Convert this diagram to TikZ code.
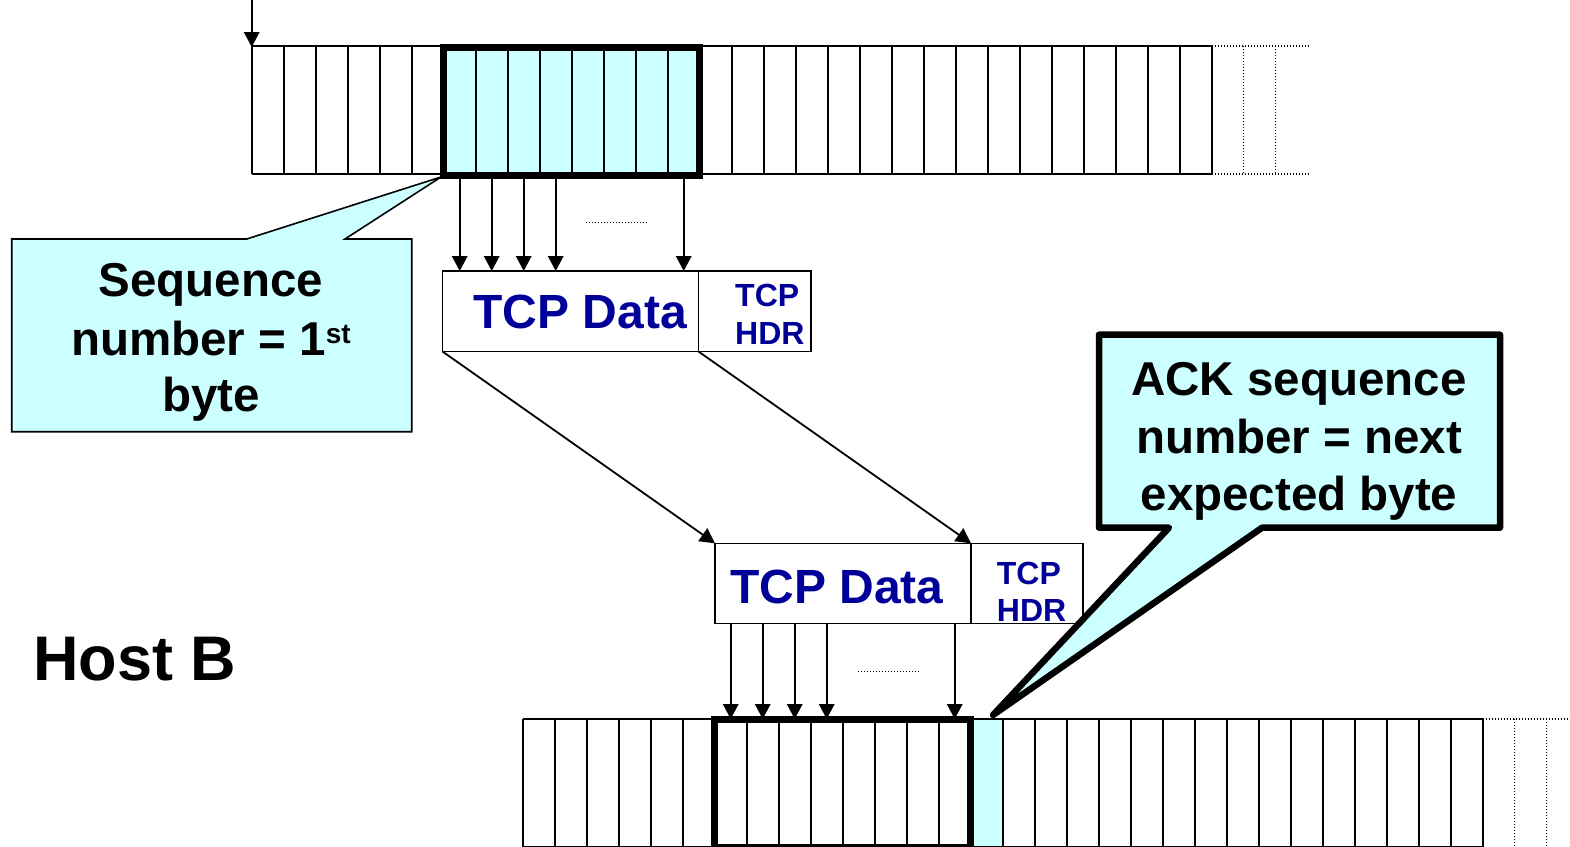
\documentclass[tikz,border=0pt]{standalone}
\usepackage{fontspec}
\setmainfont{Liberation Sans}
\usetikzlibrary{arrows.meta}
\definecolor{lightcyan}{RGB}{204,255,255}
\definecolor{hdrblue}{RGB}{0,0,153}

\begin{document}
\begin{tikzpicture}[x=1pt,y=-1pt,
  cell/.style={line width=2pt},
  dotcell/.style={line width=1.5pt,dash pattern=on 1pt off 2pt},
  ellip/.style={line width=1pt,dash pattern=on 0.8pt off 2.2pt},
  winbox/.style={draw,line width=7pt,rectangle,inner sep=0pt,outer sep=0pt},
  segbox/.style={draw,line width=1.6pt,rectangle,inner sep=0pt,outer sep=0pt,fill=white},
  arr/.style={line width=1.8pt,-{Triangle[length=15pt,width=15.5pt]}},
  datalbl/.style={font=\fontsize{48}{48}\selectfont\bfseries,text=hdrblue,inner sep=0pt,anchor=base west},
  hdrlbl/.style={font=\fontsize{32}{32}\selectfont\bfseries,text=hdrblue,inner sep=0pt,anchor=base west},
  calltxt/.style={font=\fontsize{47.5}{47.5}\selectfont\bfseries,inner sep=0pt,anchor=base},
  callthin/.style={fill=lightcyan,draw,line width=1.6pt,line join=miter},
  callthick/.style={fill=lightcyan,draw,line width=6.5pt,line join=round}
]
\path[use as bounding box,clip] (0,0) rectangle (1570,846);
\fill[white] (0,0) rectangle (1570,846);

% ---------- sender byte stream ----------
\fill[lightcyan] (443.7,46) rectangle (699.7,174);
\foreach \k in {0,...,30}
  \draw[cell] (251.7+32*\k,46) -- (251.7+32*\k,174);
\draw[cell] (251.7,46) -- (1211.7,46) (251.7,174) -- (1211.7,174);
\draw[dotcell] (1211.7,46) -- (1308,46) (1211.7,174) -- (1308,174)
               (1243.7,46) -- (1243.7,174) (1275.7,46) -- (1275.7,174);
\node[winbox,minimum width=256pt,minimum height=128.3pt] (sendwin) at (571.7,111.15) {};

\coordinate (streamin) at (251.7,0);
\draw[arr] (streamin) -- (streamin |- sendwin.north);

% ---------- receiver byte stream ----------
\fill[lightcyan] (970.7,719) rectangle (1002.7,847);
\foreach \k in {0,...,30}
  \draw[cell] (522.7+32*\k,719) -- (522.7+32*\k,847);
\draw[cell] (522.7,719) -- (1482.7,719) (522.7,847) -- (1482.7,847);
\draw[dotcell] (1482.7,719) -- (1575,719)
               (1514.7,719) -- (1514.7,847) (1546.7,719) -- (1546.7,847);
\node[winbox,minimum width=256pt,minimum height=128pt] (recvwin) at (842.7,783) {};

% ---------- segment as sent ----------
\node[segbox,minimum width=256pt,minimum height=80.5pt] (dataA) at (570.5,311.25) {};
\node[segbox,minimum width=112.5pt,minimum height=80.5pt,anchor=west] (hdrA) at (dataA.east) {};
\node[datalbl] (dataAtxt) at (473.3,328.3) {TCP Data};
\node[hdrlbl] (hdrAtcp) at (735,306.7) {TCP};
\node[hdrlbl] (hdrAhdr) at (735,344) {HDR};

% ---------- segment as received ----------
\node[segbox,minimum width=256pt,minimum height=80pt] (dataB) at (843,583.3) {};
\node[segbox,minimum width=112pt,minimum height=80pt,anchor=west] (hdrB) at (dataB.east) {};
\node[datalbl] (dataBtxt) at (730,603.3) {TCP Data};
\node[hdrlbl] (hdrBtcp) at (996.7,584) {TCP};
\node[hdrlbl] (hdrBhdr) at (996.7,621.7) {HDR};

% bytes copied into the segment
\foreach \x in {459.7,491.7,523.7,555.7,683.7}{
  \coordinate (sb) at (\x,0);
  \draw[arr] (sb |- sendwin.south) -- (sb |- dataA.north);
}
\draw[ellip] (585.7,222.7) -- (647.7,222.7);

% segment travelling across
\draw[arr] (dataA.south west) -- (dataB.north west);
\draw[arr] (dataA.south east) -- (dataB.north east);

% bytes delivered into the receive buffer
\foreach \x in {730.7,762.7,794.7,826.7,954.7}{
  \coordinate (rb) at (\x,0);
  \draw[arr] (rb |- dataB.south) -- (rb |- recvwin.north);
}
\draw[ellip] (858,671.7) -- (920,671.7);

% ---------- callouts ----------
\draw[callthin] (11.7,239) -- (246.7,239) -- (441,177) -- (345,239) -- (411.7,239)
  -- (411.7,431.7) -- (11.7,431.7) -- cycle;
\node[calltxt] (seqA) at (211,296) {Sequence};
\node[calltxt] (seqB) at (211,355) {number = 1\raisebox{12pt}{\fontsize{28}{28}\selectfont st}};
\node[calltxt] (seqC) at (211,411.7) {byte};

\draw[callthick] (1099,334.7) -- (1500,334.7) -- (1500,527.7) -- (1262,527.7)
  -- (993,715) -- (1169,527.7) -- (1099,527.7) -- cycle;
\node[calltxt] (ackA) at (1299,395) {ACK sequence};
\node[calltxt] (ackB) at (1299,453) {number = next};
\node[calltxt] (ackC) at (1299,510) {expected byte};

% ---------- host label ----------
\node[font=\fontsize{63}{63}\selectfont\bfseries,inner sep=0pt,anchor=base west] (hostb) at (33,680) {Host B};
\end{tikzpicture}
\end{document}
